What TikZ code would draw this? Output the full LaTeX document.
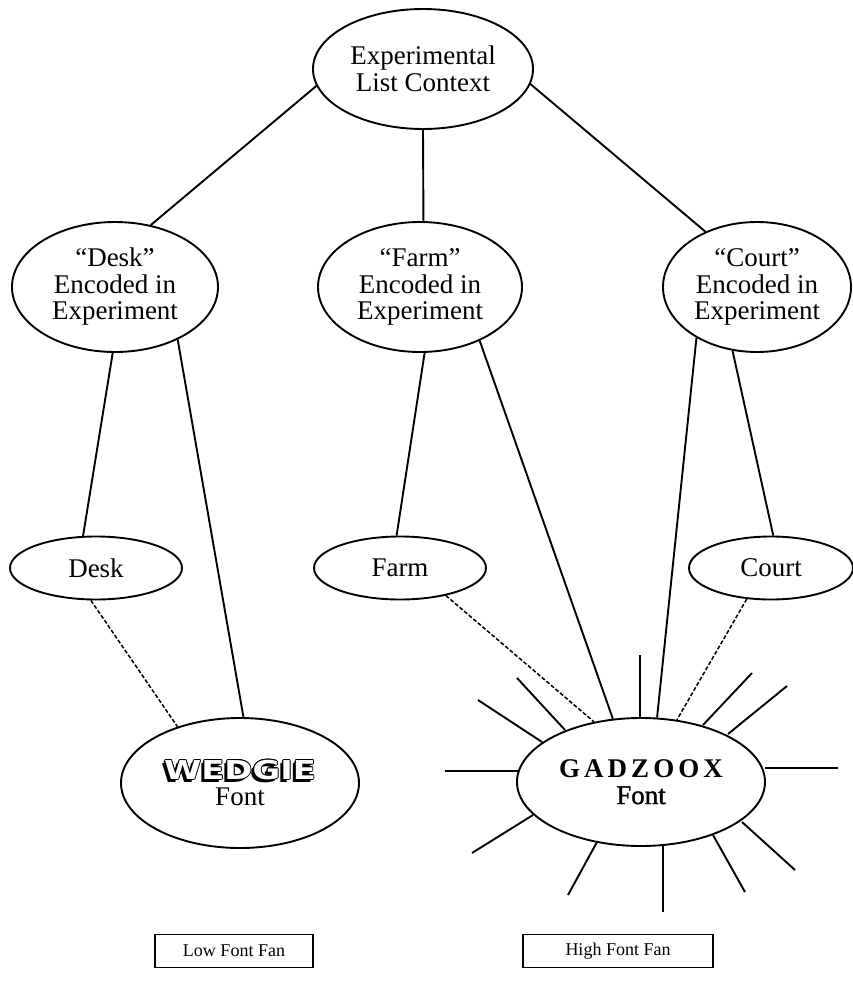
\documentclass[tikz,border=0pt]{standalone}
\usepackage{fontspec}
\setmainfont{Liberation Serif}
\usepackage{contour}
\usetikzlibrary{shapes.geometric}

\newfontfamily\wedgiefont{DejaVu Sans}[FakeStretch=1.3]
\newfontfamily\gadzooxfont{Liberation Serif}[LetterSpace=15]
\newfontfamily\heavyfont{Liberation Serif}[FakeBold=1.2]

\contourlength{0.8pt}
\contournumber{10}

% block letters with a shadow to the lower left
\newcommand{\wedgiemark}{{\wedgiefont\bfseries\fontsize{26}{26}\selectfont
  \rlap{\kern-3pt\raisebox{-3pt}{WEDGIE}}%
  \rlap{\kern-1.5pt\raisebox{-1.5pt}{WEDGIE}}%
  {\color{white}\contour{black}{WEDGIE}}}}

\begin{document}
\begin{tikzpicture}[x=1pt, y=-1pt, line width=1.9pt,
  oval/.style={draw, ellipse, inner sep=0pt, align=center, font=\fontsize{27}{26.5}\selectfont},
  fanbox/.style={draw, line width=1.3pt, minimum height=33pt, font=\fontsize{18}{20}\selectfont},
  link/.style={line width=1.9pt},
  faint/.style={line width=1.5pt, dash pattern=on 4pt off 2pt},
  ray/.style={line width=1.9pt}]
  \useasboundingbox (0,0) rectangle (853,982);

  \node[oval, minimum width=220pt, minimum height=120pt] (context) at (423,69) {Experimental\\List Context};
  \node[oval, minimum width=206pt, minimum height=130pt] (deskenc) at (115,287) {“Desk”\\Encoded in\\Experiment};
  \node[oval, minimum width=204pt, minimum height=130pt] (farmenc) at (420,287) {“Farm”\\Encoded in\\Experiment};
  \node[oval, minimum width=188pt, minimum height=130pt] (courtenc) at (757,287) {“Court”\\Encoded in\\Experiment};

  \node[oval, minimum width=172pt, minimum height=63pt] (desk) at (96,568) {Desk};
  \node[oval, minimum width=172pt, minimum height=63pt] (farm) at (400,568) {Farm};
  \node[oval, minimum width=164pt, minimum height=63pt] (court) at (771,568) {Court};

  \node[oval, minimum width=238pt, minimum height=130pt] (wedgie) at (240,783) {\wedgiemark\\Font};
  \node[oval, minimum width=248pt, minimum height=128pt] (gadzoox) at (641,782) {{\gadzooxfont\bfseries GADZOOX}\\{\heavyfont Font}};

  \node[fanbox, minimum width=158pt] (lowfan) at (234,951) {Low Font Fan};
  \node[fanbox, minimum width=190pt] (highfan) at (618,951) {High Font Fan};

  \draw[link] (context.189) -- (deskenc.60);
  \draw[link] (context.270) -- (farmenc.87);
  \draw[link] (context.352) -- (courtenc.133);

  \draw[link] (deskenc.268) -- (desk.112);
  \draw[link] (deskenc.320) -- (wedgie.87);
  \draw[link] (farmenc.274) -- (farm.96);
  \draw[link] (farmenc.318) -- (gadzoox.114);
  \draw[link] (courtenc.249) -- (court.86);
  \draw[link] (courtenc.220) -- (gadzoox.76);

  \draw[faint] (desk.261) -- (wedgie.138);
  \draw[faint] (farm.329) -- (gadzoox.128);
  \draw[faint] (court.232) -- (gadzoox.60);

  % rays round the high fan font
  \foreach \xa/\ya/\xb/\yb in {517/678/565/730, 478/700/542/742, 445/771/518/771,
      472/853/533/815, 568/895/597/842, 663/912/663/845, 745/892/713/835,
      795/870/742/822, 765/768/838/768, 728/734/787/686, 703/725/752/673,
      640/655/640/717}
    \draw[ray] (\xa,\ya) -- (\xb,\yb);
\end{tikzpicture}
\end{document}
